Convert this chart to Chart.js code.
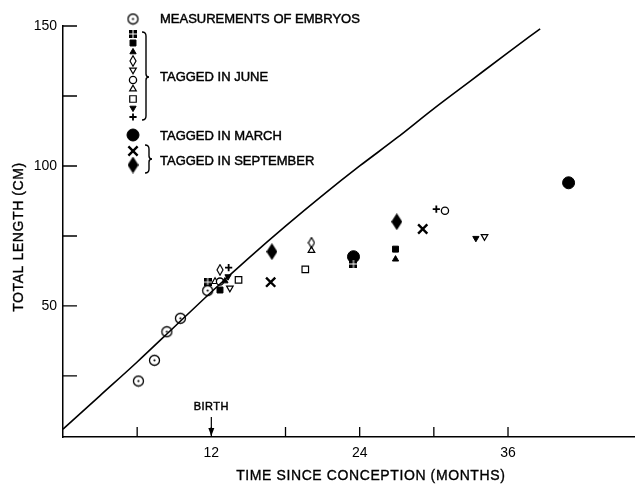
<!DOCTYPE html>
<html>
<head>
<meta charset="utf-8">
<script src="https://cdn.jsdelivr.net/npm/chart.js@4.4.1/dist/chart.umd.min.js"></script>
<style>
  html, body { margin: 0; padding: 0; background: #fff; }
  #wrap { width: 643px; height: 486px; }
</style>
</head>
<body>
<div id="wrap"><canvas id="chart"></canvas></div>
<script>
// axis ticks
const xTicks = [6, 12, 18, 24, 30, 36];
const xTickLabels = ['', '12', '', '24', '', '36'];
const yTicks = [25, 50, 75, 100, 125, 150];
const yTickLabels = ['', '50', '', '100', '', '150'];

// growth curve (months since conception, total length cm)
const curveMonths = [0, 3, 6, 9, 12, 15, 18, 21, 24, 27, 30, 33, 36, 38.6];
const curveLength = [6, 18, 30, 42.5, 55, 67, 78.5, 89.5, 100, 110, 120.5, 130.5, 140.5, 149];

// measurements of embryos
const embryoMonths = [6.1, 7.4, 8.4, 9.5, 11.7];
const embryoLength = [23.2, 30.6, 40.8, 45.6, 55.5];

// tagged in June: [month, length] at tagging and at recapture
const juneHatchSquare = [[11.7, 58.5], [23.5, 65]];
const juneSquare = [[12.7, 55.7], [26.9, 70.3]];
const juneTriangle = [[13.1, 58.9], [26.9, 66.7]];
const juneOpenDiamond = [[12.7, 62.9], [20.1, 72.6]];
const juneOpenTriDown = [[13.5, 56.4], [34.1, 74.8]];
const juneOpenCircle = [[12.7, 58.7], [30.9, 84.0]];
const juneOpenTriangle = [[12.3, 58.7], [20.1, 69.8]];
const juneOpenSquare = [[14.2, 59.3], [19.6, 63.1]];
const juneTriDown = [[13.35, 60.5], [33.4, 74.2]];
const junePlus = [[13.4, 63.7], [30.2, 84.6]];

// tagged in March
const marchCircle = [[23.5, 67.6], [40.9, 94.0]];

// tagged in September
const septCross = [[16.8, 58.5], [29.1, 77.5]];
const septDiamond = [[16.9, 69.4], [27.0, 80.1]];

const FONT = '"Liberation Sans", Arial, sans-serif';

// small canvases for the odd marker shapes
function mk(w, h, draw) {
  const c = document.createElement('canvas');
  c.width = w; c.height = h;
  const g = c.getContext('2d');
  g.fillStyle = '#000'; g.strokeStyle = '#000';
  draw(g, w, h);
  return c;
}
const imgDotCircle = mk(13, 13, (g) => {
  g.lineWidth = 1.3;
  g.beginPath(); g.arc(6.5, 6.5, 5, 0, Math.PI * 2); g.stroke();
  g.beginPath(); g.arc(6.5, 6.5, 1.1, 0, Math.PI * 2); g.fill();
});
const imgHatchSquare = mk(8, 8, (g) => {
  g.fillRect(0, 0, 8, 8);
  g.fillStyle = '#fff';
  g.fillRect(3.5, 0, 1, 8);
  g.fillRect(0, 3.5, 8, 1);
});
const imgOpenDiamond = mk(8, 12, (g) => {
  g.lineWidth = 1.2;
  g.beginPath(); g.moveTo(4, 0.8); g.lineTo(7, 6); g.lineTo(4, 11.2); g.lineTo(1, 6); g.closePath(); g.stroke();
});
const imgBigDiamond = mk(11, 17, (g) => {
  g.beginPath(); g.moveTo(5.5, 0); g.lineTo(11, 8.5); g.lineTo(5.5, 17); g.lineTo(0, 8.5); g.closePath(); g.fill();
});

const marker = {
  embryo: { pointStyle: imgDotCircle, radius: 6, rotation: 0, borderWidth: 0, fill: '#000' },
  hatchSq: { pointStyle: imgHatchSquare, radius: 4, rotation: 0, borderWidth: 0, fill: '#000' },
  square: { pointStyle: 'rect', radius: 4.2, rotation: 0, borderWidth: 1, fill: '#000' },
  tri: { pointStyle: 'triangle', radius: 3.6, rotation: 0, borderWidth: 1, fill: '#000' },
  openDiamond: { pointStyle: imgOpenDiamond, radius: 5, rotation: 0, borderWidth: 0, fill: '#000' },
  openTriDown: { pointStyle: 'triangle', radius: 3.8, rotation: 180, borderWidth: 1.2, fill: '#fff' },
  openCircle: { pointStyle: 'circle', radius: 3.6, rotation: 0, borderWidth: 1.3, fill: '#fff' },
  openTri: { pointStyle: 'triangle', radius: 3.8, rotation: 0, borderWidth: 1.2, fill: '#fff' },
  openSq: { pointStyle: 'rect', radius: 4.6, rotation: 0, borderWidth: 1.2, fill: '#fff' },
  triDown: { pointStyle: 'triangle', radius: 3.6, rotation: 180, borderWidth: 1, fill: '#000' },
  plus: { pointStyle: 'cross', radius: 3.6, rotation: 0, borderWidth: 1.8, fill: '#000' },
  march: { pointStyle: 'circle', radius: 6, rotation: 0, borderWidth: 1, fill: '#000' },
  sCross: { pointStyle: 'crossRot', radius: 6.5, rotation: 0, borderWidth: 2.4, fill: '#000' },
  sDiamond: { pointStyle: imgBigDiamond, radius: 8, rotation: 0, borderWidth: 0, fill: '#000' }
};

function pts(arr) { return arr.map(p => ({ x: p[0], y: p[1] })); }
function series(label, data, m) {
  return {
    type: 'scatter', label, data,
    pointStyle: m.pointStyle, pointRadius: m.radius, pointHoverRadius: m.radius,
    rotation: m.rotation, pointBorderWidth: m.borderWidth,
    pointBackgroundColor: m.fill, pointBorderColor: '#000'
  };
}

// legend rows, inward ticks, braces, BIRTH arrow and axis titles
const extras = {
  id: 'extras',
  afterDraw(chart) {
    const ctx = chart.ctx;
    const xs = chart.scales.x, ys = chart.scales.y;
    const left = chart.chartArea.left, bottom = chart.chartArea.bottom;
    ctx.save();
    ctx.strokeStyle = '#000';
    ctx.fillStyle = '#000';

    // inward tick marks
    ctx.lineWidth = 1.3;
    ctx.beginPath();
    xTicks.forEach(v => { const px = xs.getPixelForValue(v); ctx.moveTo(px, bottom); ctx.lineTo(px, bottom - 10); });
    yTicks.forEach(v => { const py = ys.getPixelForValue(v); ctx.moveTo(left, py); ctx.lineTo(left + 14, py); });
    ctx.stroke();

    // legend markers
    const mx = 133;
    const rows = [
      [marker.embryo, 19], [marker.hatchSq, 34], [marker.square, 43], [marker.tri, 52],
      [marker.openDiamond, 61], [marker.openTriDown, 70], [marker.openCircle, 80], [marker.openTri, 89],
      [marker.openSq, 99], [marker.triDown, 108], [marker.plus, 117], [marker.march, 135],
      [marker.sCross, 151], [marker.sDiamond, 165]
    ];
    rows.forEach(([m, y]) => {
      ctx.fillStyle = m.fill;
      ctx.strokeStyle = '#000';
      ctx.lineWidth = m.borderWidth;
      Chart.helpers.drawPoint(ctx, { pointStyle: m.pointStyle, rotation: m.rotation, radius: m.radius, borderWidth: m.borderWidth }, mx, y);
    });

    // braces
    ctx.strokeStyle = '#000';
    ctx.lineWidth = 1.4;
    function brace(x, top, tip, bot) {
      ctx.beginPath();
      ctx.moveTo(x, top);
      ctx.quadraticCurveTo(x + 4, top, x + 4, top + 4);
      ctx.lineTo(x + 4, tip - 3);
      ctx.quadraticCurveTo(x + 4, tip, x + 7, tip);
      ctx.quadraticCurveTo(x + 4, tip, x + 4, tip + 3);
      ctx.lineTo(x + 4, bot - 4);
      ctx.quadraticCurveTo(x + 4, bot, x, bot);
      ctx.stroke();
    }
    brace(142, 32, 77, 120);
    brace(145, 145, 159, 173);

    // legend text, slightly heavier like the lettering of the original
    function heavy(text, x, y) {
      ctx.fillText(text, x, y);
      ctx.strokeText(text, x, y);
    }
    ctx.fillStyle = '#000';
    ctx.strokeStyle = '#000';
    ctx.lineWidth = 0.45;
    ctx.font = '13px ' + FONT;
    ctx.letterSpacing = '0px';
    ctx.textBaseline = 'middle';
    ctx.textAlign = 'left';
    heavy('MEASUREMENTS OF EMBRYOS', 160, 19);
    heavy('TAGGED IN JUNE', 160, 77);
    heavy('TAGGED IN MARCH', 160, 136);
    heavy('TAGGED IN SEPTEMBER', 160, 161);

    // birth arrow
    const bx = xs.getPixelForValue(12);
    ctx.font = '11px ' + FONT;
    ctx.letterSpacing = '0.5px';
    ctx.textAlign = 'center';
    heavy('BIRTH', bx, 407);
    ctx.lineWidth = 1.2;
    ctx.beginPath(); ctx.moveTo(bx, 417); ctx.lineTo(bx, bottom - 2); ctx.stroke();
    ctx.beginPath(); ctx.moveTo(bx - 3, bottom - 9); ctx.lineTo(bx, bottom - 1); ctx.lineTo(bx + 3, bottom - 9); ctx.closePath(); ctx.fill();

    // axis titles
    ctx.lineWidth = 0.35;
    ctx.font = '14px ' + FONT;
    ctx.letterSpacing = '0.6px';
    ctx.textAlign = 'center';
    heavy('TIME SINCE CONCEPTION (MONTHS)', xs.getPixelForValue(24.9), 476);
    ctx.translate(19, 237);
    ctx.rotate(-Math.PI / 2);
    heavy('TOTAL LENGTH (CM)', 0, 0);
    ctx.restore();
  }
};

new Chart(document.getElementById('chart'), {
  data: {
    datasets: [
      {
        type: 'line', label: 'growth',
        data: curveMonths.map((m, i) => ({ x: m, y: curveLength[i] })),
        borderColor: '#000', borderWidth: 1.6, pointRadius: 0,
        cubicInterpolationMode: 'monotone', fill: false
      },
      series('embryos', embryoMonths.map((m, i) => ({ x: m, y: embryoLength[i] })), marker.embryo),
      series('june hatched square', pts(juneHatchSquare), marker.hatchSq),
      series('june square', pts(juneSquare), marker.square),
      series('june triangle', pts(juneTriangle), marker.tri),
      series('june open diamond', pts(juneOpenDiamond), marker.openDiamond),
      series('june open triangle down', pts(juneOpenTriDown), marker.openTriDown),
      series('june open circle', pts(juneOpenCircle), marker.openCircle),
      series('june open triangle', pts(juneOpenTriangle), marker.openTri),
      series('june open square', pts(juneOpenSquare), marker.openSq),
      series('june triangle down', pts(juneTriDown), marker.triDown),
      series('june plus', pts(junePlus), marker.plus),
      series('march', pts(marchCircle), marker.march),
      series('september cross', pts(septCross), marker.sCross),
      series('september diamond', pts(septDiamond), marker.sDiamond)
    ]
  },
  options: {
    responsive: true,
    maintainAspectRatio: false,
    animation: false,
    events: [],
    layout: { padding: { top: 26, left: 0, right: 0, bottom: 0 } },
    plugins: { legend: { display: false }, tooltip: { enabled: false } },
    scales: {
      x: {
        type: 'linear', min: 0, max: 46.2,
        afterFit: s => { s.height = 49; },
        afterBuildTicks: s => { s.ticks = xTicks.map(v => ({ value: v })); },
        ticks: {
          callback: (v) => xTickLabels[xTicks.indexOf(v)] || '',
          color: '#000', padding: 8, maxRotation: 0, autoSkip: false,
          font: { family: FONT, size: 14 }
        },
        grid: { display: true, drawOnChartArea: false, drawTicks: false },
        border: { display: true, color: '#000', width: 1.5 }
      },
      y: {
        type: 'linear', min: 3.2, max: 150,
        afterFit: s => { s.width = 63; },
        afterBuildTicks: s => { s.ticks = yTicks.map(v => ({ value: v })); },
        ticks: {
          callback: (v) => yTickLabels[yTicks.indexOf(v)] || '',
          color: '#000', padding: 6, autoSkip: false,
          font: { family: FONT, size: 14 }
        },
        grid: { display: true, drawOnChartArea: false, drawTicks: false },
        border: { display: true, color: '#000', width: 1.5 }
      }
    }
  },
  plugins: [extras]
});
</script>
</body>
</html>
